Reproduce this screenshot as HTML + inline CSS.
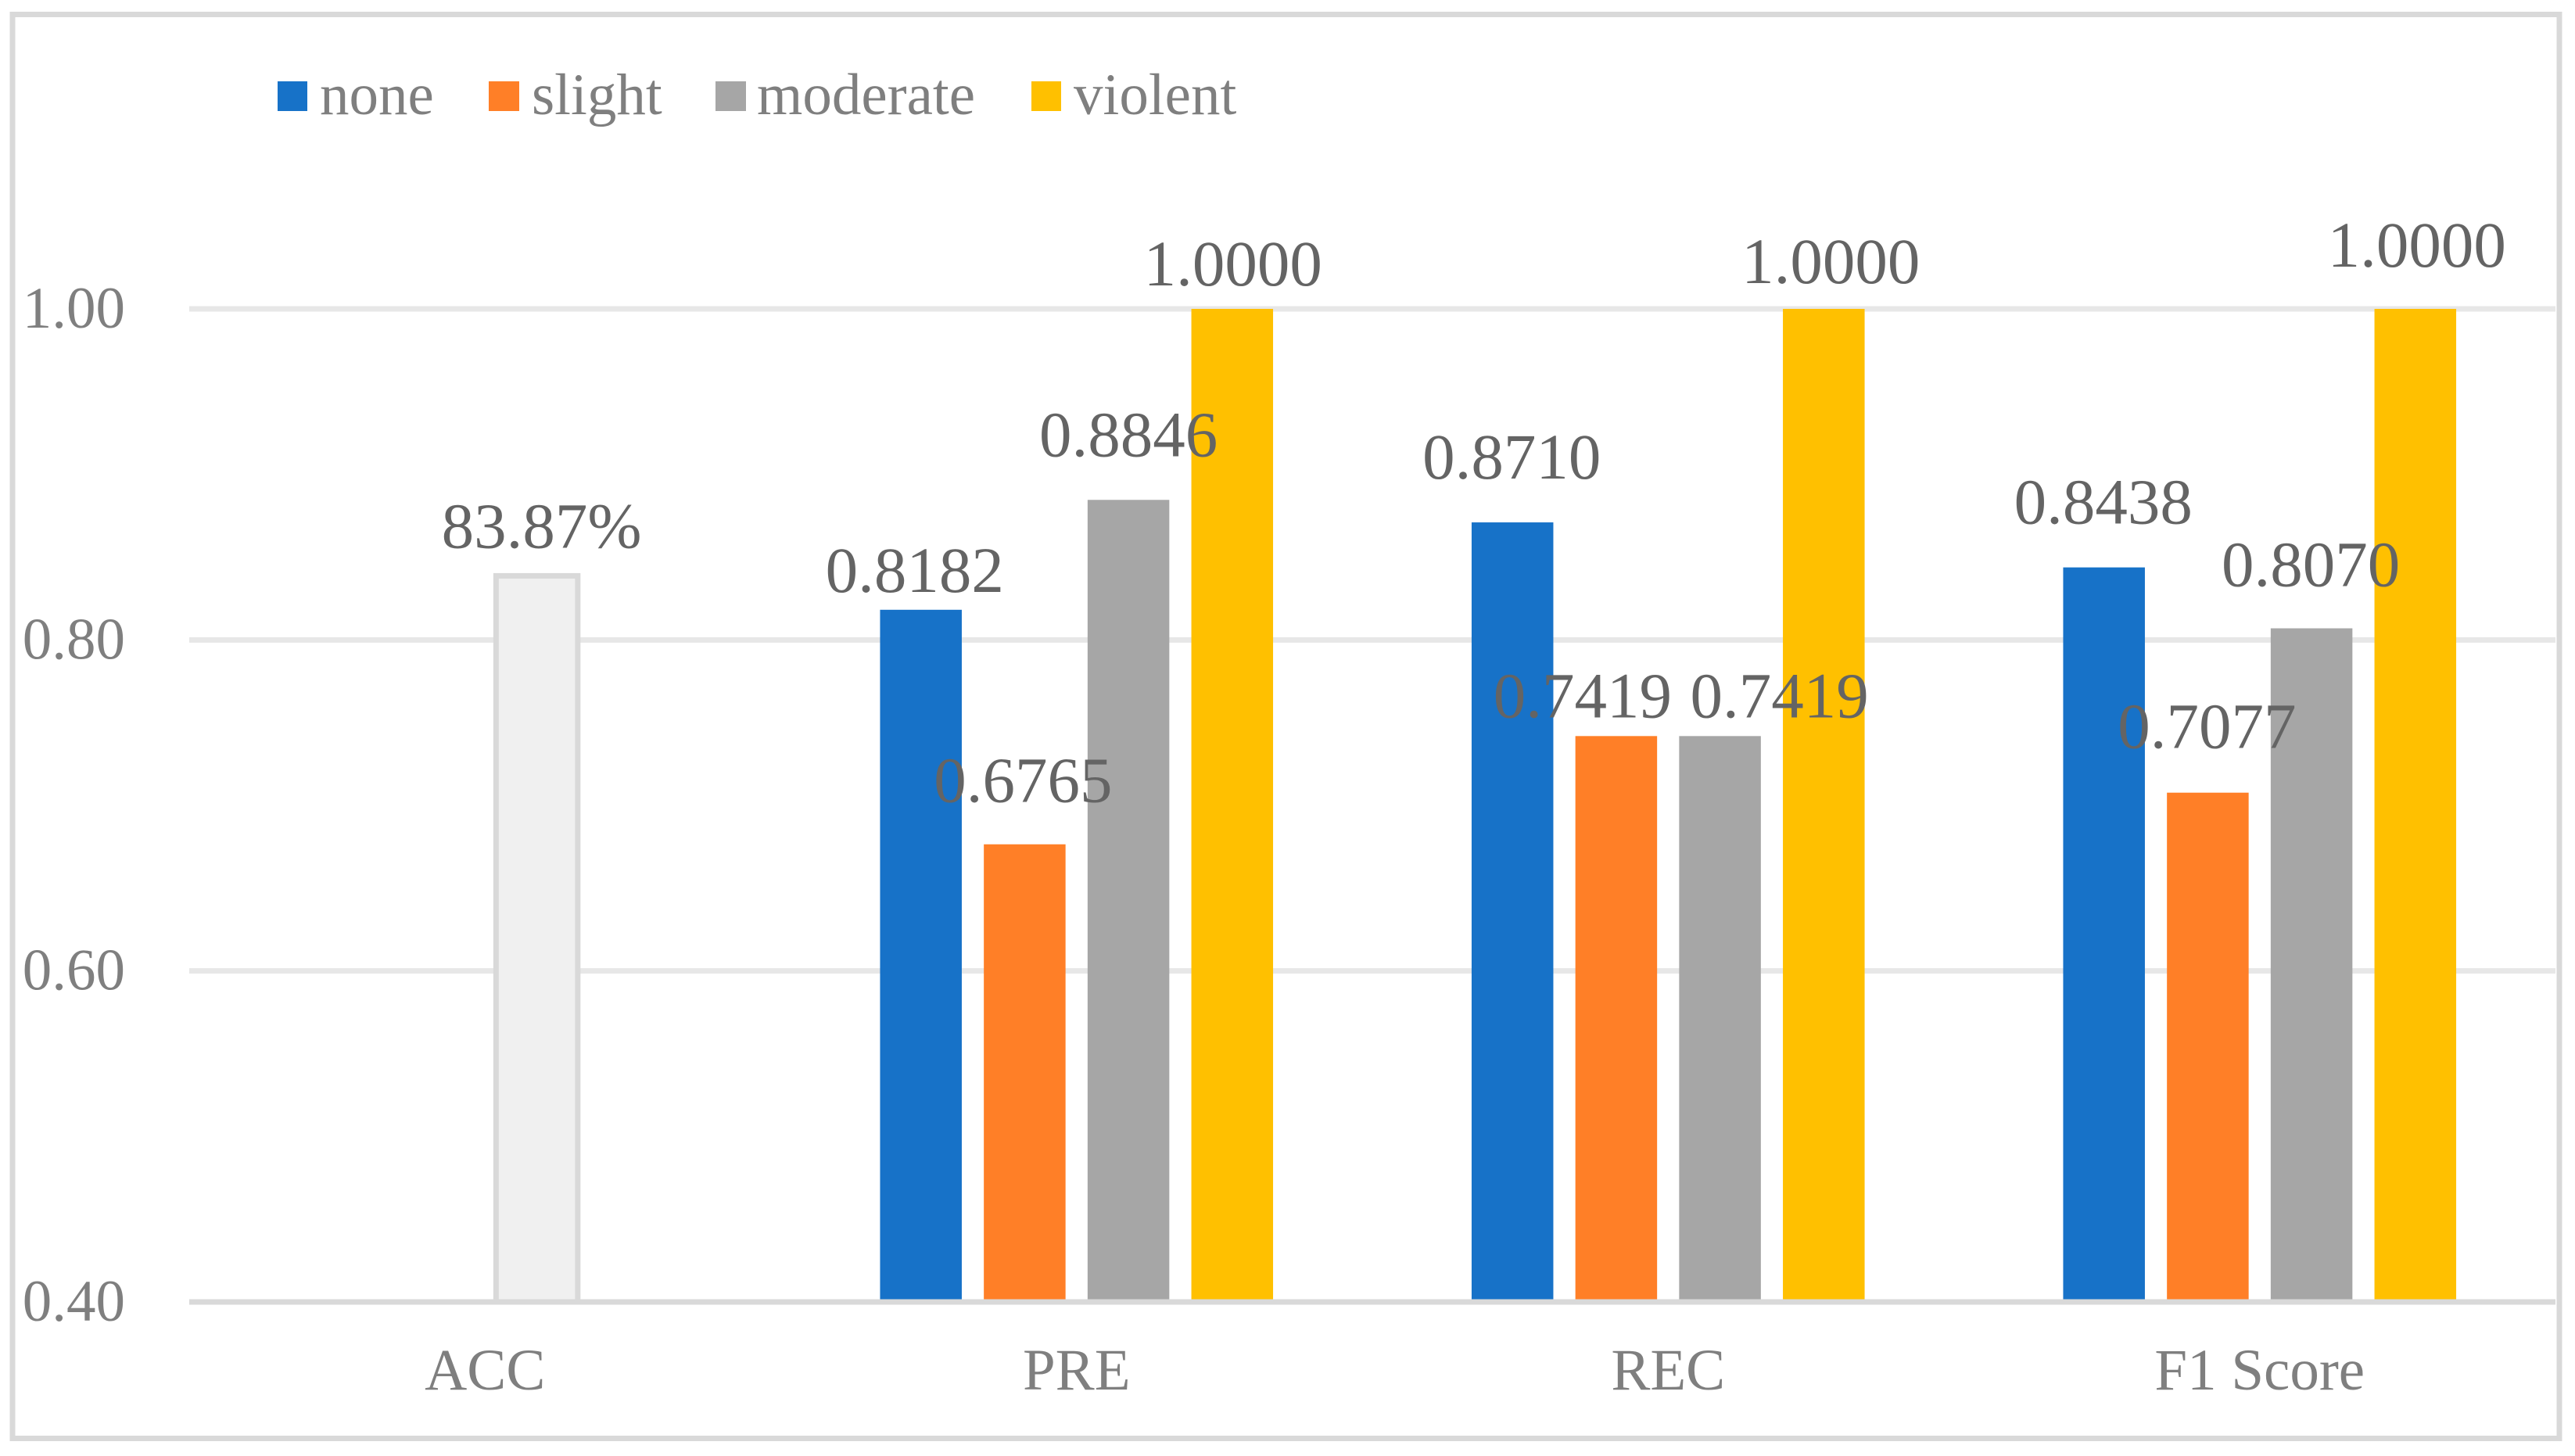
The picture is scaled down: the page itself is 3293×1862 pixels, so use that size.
<!DOCTYPE html>
<html lang="en">
<head>
<meta charset="utf-8">
<title>Classification metrics by damage level</title>
<style>
  html, body { margin: 0; padding: 0; background: #ffffff; }
  svg { display: block; }
  text { font-family: "Liberation Serif", serif; }
</style>
</head>
<body>
<svg id="chart" xmlns="http://www.w3.org/2000/svg" width="3293" height="1862" viewBox="0 0 3293 1862">
  <rect x="0" y="0" width="3293" height="1862" fill="#ffffff"/>
  <rect x="16" y="18.5" width="3257" height="1821" fill="#ffffff" stroke="#d9d9d9" stroke-width="7"/>
  <g id="grid"></g>
  <g id="bars"></g>
  <g id="axes"></g>
  <g id="labels"></g>
  <g font-size="75" fill="#7f7f7f">
    <rect x="355" y="104" width="38" height="38" fill="#1772c8"/>
    <text x="409" y="146" fill="#7f7f7f">none</text>
    <rect x="625" y="104" width="39" height="38" fill="#ff7f27"/>
    <text x="680" y="146" fill="#7f7f7f">slight</text>
    <rect x="915" y="104" width="39" height="38" fill="#a6a6a6"/>
    <text x="968" y="146" fill="#7f7f7f">moderate</text>
    <rect x="1319" y="104" width="38" height="38" fill="#ffc000"/>
    <text x="1373" y="146" fill="#7f7f7f">violent</text>
  </g>
</svg>
<script>
// Chart data
const categories = ['ACC', 'PRE', 'REC', 'F1 Score'];
const yTicks = [0.4, 0.6, 0.8, 1.0];
const accuracyValues = [0.8387, null, null, null];
const noneValues = [null, 0.8182, 0.8710, 0.8438];
const slightValues = [null, 0.6765, 0.7419, 0.7077];
const moderateValues = [null, 0.8846, 0.7419, 0.8070];
const violentValues = [null, 1.0000, 1.0000, 1.0000];

// Hand-placed data-label nudges from the original figure (relative to each bar)
const noneNudgeX = [0, -8, -1, -1];
const noneLift = [0, 23, 56, 56];
const slightNudgeX = [0, -2, -43, -1];
const slightLift = [0, 54, 24, 57];
const moderateNudgeX = [0, 0, 76, -1];
const moderateLift = [0, 56, 24, 54];
const violentNudgeX = [0, 1, 9, 2];
const violentLift = [0, 30, 33, 54];
const accuracyNudgeX = [6, 0, 0, 0];
const accuracyLift = [36, 0, 0, 0];

// Axis functions
const plotLeft = 242;
const plotRight = 3268;
const axisBottomY = 1665;
const axisTopY = 395;
const domainMin = 0.4;
const domainMax = 1.0;
const barWidth = 104.5;
const barPitch = 132.7;
function yScale(v) {
  return axisBottomY - (v - domainMin) / (domainMax - domainMin) * (axisBottomY - axisTopY);
}
function bandCenter(i) {
  return plotLeft + (plotRight - plotLeft) / categories.length * (i + 0.5);
}
function slotCenter(i, slot) {
  return bandCenter(i) + (slot - 1.5) * barPitch;
}

const SVG_NS = 'http://www.w3.org/2000/svg';
const gridGroup = document.getElementById('grid');
const barsGroup = document.getElementById('bars');
const axesGroup = document.getElementById('axes');
const labelsGroup = document.getElementById('labels');

// Gridlines and y tick labels
yTicks.forEach(function (t) {
  const isBase = t === domainMin;
  const line = document.createElementNS(SVG_NS, 'line');
  
  
  line.setAttribute('x1', plotLeft);
  line.setAttribute('x2', plotRight);
  line.setAttribute('y1', yScale(t));
  line.setAttribute('y2', yScale(t));
  line.setAttribute('stroke', isBase ? '#d9d9d9' : '#e7e7e7');
  line.setAttribute('stroke-width', '7');
  (isBase ? axesGroup : gridGroup).appendChild(line);

  const tick = document.createElementNS(SVG_NS, 'text');
  
  
  tick.setAttribute('x', 160);
  tick.setAttribute('y', yScale(t) + 24);
  tick.setAttribute('text-anchor', 'end');
  tick.setAttribute('font-size', '75');
  tick.setAttribute('fill', '#7f7f7f');
  tick.textContent = t.toFixed(2);
  axesGroup.appendChild(tick);
});

// Category labels
categories.forEach(function (c, i) {
  const label = document.createElementNS(SVG_NS, 'text');
  
  
  label.setAttribute('x', bandCenter(i));
  label.setAttribute('y', 1777);
  label.setAttribute('text-anchor', 'middle');
  label.setAttribute('font-size', '75');
  label.setAttribute('fill', '#7f7f7f');
  label.textContent = c;
  axesGroup.appendChild(label);
});

function drawSeries(values, slot, fill, nudgeX, lift, isAccuracy) {
  values.forEach(function (v, i) {
    if (v === null) return;
    const cx = slotCenter(i, slot);
    const top = yScale(v);
    const bar = document.createElementNS(SVG_NS, 'rect');
    
    
    bar.setAttribute('x', cx - barWidth / 2);
    bar.setAttribute('y', top);
    bar.setAttribute('width', barWidth);
    bar.setAttribute('height', yScale(domainMin) - top);
    bar.setAttribute('fill', fill);
    if (isAccuracy) {
      bar.setAttribute('stroke', '#d9d9d9');
      bar.setAttribute('stroke-width', '7');
    }
    barsGroup.appendChild(bar);

    const label = document.createElementNS(SVG_NS, 'text');
    
    
    label.setAttribute('x', cx + nudgeX[i]);
    label.setAttribute('y', top - lift[i]);
    label.setAttribute('text-anchor', 'middle');
    label.setAttribute('font-size', '83');
    label.setAttribute('fill', '#646464');
    label.textContent = isAccuracy ? (v * 100).toFixed(2) + '%' : v.toFixed(4);
    labelsGroup.appendChild(label);
  });
}

drawSeries(accuracyValues, 2, '#f0f0f0', accuracyNudgeX, accuracyLift, true);
drawSeries(noneValues, 0, '#1772c8', noneNudgeX, noneLift, false);
drawSeries(slightValues, 1, '#ff7f27', slightNudgeX, slightLift, false);
drawSeries(moderateValues, 2, '#a6a6a6', moderateNudgeX, moderateLift, false);
drawSeries(violentValues, 3, '#ffc000', violentNudgeX, violentLift, false);
</script>
</body>
</html>
